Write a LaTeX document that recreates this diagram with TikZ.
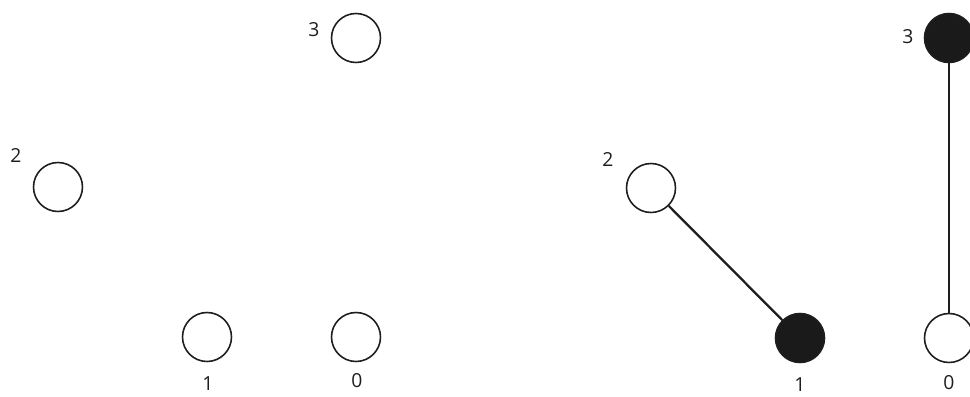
\documentclass[tikz,border=0pt]{standalone}
\usepackage{fontspec}
\setsansfont{Open Sans}
\usetikzlibrary{positioning}
\definecolor{graphInk}{HTML}{1E1E1E}
\definecolor{graphFill}{HTML}{1A1A1A}
\tikzset{
  every picture/.style={font=\sffamily\fontsize{11}{13}\selectfont, text=graphInk},
  vertex/.style={circle, draw=graphInk, line width=0.9pt, fill=white,
    minimum size=0.98cm, inner sep=0pt},
  marked/.style={vertex, fill=graphFill},
  num/.style={inner sep=1pt},
  tree edge/.style={draw=graphInk, line width=1.3pt}
}
\begin{document}
\begin{tikzpicture}[x=0.02cm,y=0.02cm]
  \useasboundingbox (0,0) rectangle (970,396);
  \clip (0,0) rectangle (970,396);
  % left graph, no edges yet
  \node[vertex] (l3) at (356,358) {};
  \node[vertex] (l2) at (58,209) {};
  \node[vertex] (l1) at (207,59) {};
  \node[vertex] (l0) at (356,59) {};
  \node[num] (l3num) at (314,366) {3};
  \node[num] (l2num) at (16,240) {2};
  \node[num] (l1num) at (208,12) {1};
  \node[num] (l0num) at (357,15) {0};
  % right graph
  \node[marked] (r3) at (949,358) {};
  \node[vertex] (r2) at (651,208) {};
  \node[marked] (r1) at (800,58) {};
  \node[vertex] (r0) at (949,58) {};
  \node[num] (r3num) at (908,359) {3};
  \node[num] (r2num) at (608,236) {2};
  \node[num] (r1num) at (800,11) {1};
  \node[num] (r0num) at (949,13) {0};
  \draw[tree edge] (r2) -- (r1);
  \draw[tree edge] (r3) -- (r0);
\end{tikzpicture}
\end{document}
